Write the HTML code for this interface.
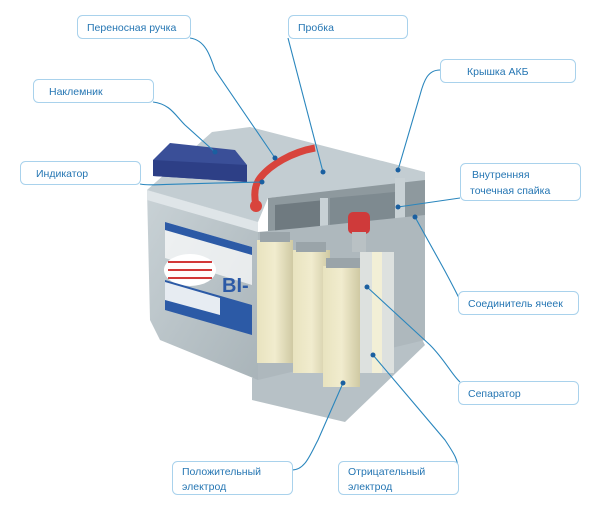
<!DOCTYPE html>
<html><head><meta charset="utf-8"><style>
body{margin:0;background:#fff;width:600px;height:510px;overflow:hidden;font-family:"Liberation Sans",sans-serif}
</style></head><body>
<svg width="600" height="510" viewBox="0 0 600 510" xmlns="http://www.w3.org/2000/svg">
<defs>
<linearGradient id="fr" x1="0" y1="0" x2="1" y2="1"><stop offset="0" stop-color="#c9d2d6"/><stop offset="1" stop-color="#a9b4b9"/></linearGradient>
<linearGradient id="pl" x1="0" y1="0" x2="1" y2="0"><stop offset="0" stop-color="#e8e3bf"/><stop offset="0.5" stop-color="#f1ecce"/><stop offset="1" stop-color="#cfc9a3"/></linearGradient>
</defs>
<polygon points="252,378 418,332 425,345 345,422 252,400" fill="#b7c1c6"/>
<polygon points="147,190 258,222 258,380 160,340 150,320" fill="url(#fr)"/>
<polygon points="147,190 258,222 258,232 147,200" fill="#dfe5e8"/>
<polygon points="147,190 212,132 250,127 425,172 425,182 268,198 258,222" fill="#c3cdd2"/>
<polygon points="268,198 425,180 425,240 268,250" fill="#8e999e"/>
<polygon points="275,205 325,200 325,250 275,252" fill="#6f7a80"/>
<polygon points="330,198 395,192 395,240 330,250" fill="#7e8a90"/>
<rect x="320" y="198" width="8" height="60" fill="#c8d1d5"/>
<rect x="395" y="178" width="10" height="70" fill="#c8d1d5"/>
<polygon points="258,232 300,228 425,215 425,340 258,380" fill="#aeb8bd"/>
<rect x="348" y="212" width="22" height="22" rx="5" fill="#cf3a3a"/>
<rect x="352" y="232" width="14" height="20" fill="#b9c1c4"/>
<rect x="257" y="240" width="36" height="123" fill="url(#pl)"/>
<rect x="293" y="250" width="37" height="123" fill="url(#pl)"/>
<rect x="323" y="266" width="37" height="121" fill="url(#pl)"/>
<rect x="360" y="252" width="34" height="121" fill="#dde1df"/>
<rect x="372" y="252" width="10" height="121" fill="#f2efd6"/>
<rect x="260" y="232" width="30" height="10" fill="#9aa4a9"/>
<rect x="296" y="242" width="30" height="10" fill="#9aa4a9"/>
<rect x="326" y="258" width="34" height="10" fill="#9aa4a9"/>
<polygon points="165,222 252,247 252,285 165,258" fill="#fff" opacity="0.7"/>
<polygon points="165,222 252,247 252,255 165,230" fill="#2c5aa6"/>
<ellipse cx="190" cy="270" rx="26" ry="16" fill="#fff"/>
<g stroke="#d23a3a" stroke-width="2"><line x1="168" y1="262" x2="212" y2="262"/><line x1="168" y1="270" x2="212" y2="270"/><line x1="168" y1="278" x2="212" y2="278"/></g>
<text x="222" y="292" font-size="20" fill="#2c5aa6" font-weight="bold">BI-</text>
<polygon points="165,280 252,305 252,335 165,310" fill="#2c5aa6"/>
<polygon points="165,282 220,298 220,315 165,300" fill="#e7ecf2"/>
<polygon points="153,160 170,143 235,150 247,165 247,182 153,176" fill="#3a4f98"/>
<polygon points="153,160 247,165 247,182 153,176" fill="#2d3f86"/>
<path d="M315,148 C292,152 270,165 260,178 C254,186 254,196 256,205" stroke="#d8443c" stroke-width="7" fill="none"/>
<circle cx="256" cy="206" r="6" fill="#d8443c"/>
<g stroke="#2a86bd" stroke-width="1.1" fill="none">
<path d="M190,38 C205,40 210,55 215,70 L275,158"/>
<path d="M288,38 L323,172"/>
<path d="M440,70 C428,70 424,80 420,95 L398,170"/>
<path d="M153,102 C170,104 175,115 185,125 L215,152"/>
<path d="M140,184 C150,186 160,184 262,182"/>
<path d="M460,198 L398,207"/>
<path d="M460,300 C455,290 450,280 440,262 L415,217"/>
<path d="M460,382 C452,375 445,360 430,345 L367,287"/>
<path d="M292,470 C305,470 310,455 318,440 L343,383"/>
<path d="M458,470 C458,460 455,455 445,440 L373,355"/>
</g>
<g fill="#1a5fa0">
<circle cx="275" cy="158" r="2.5"/><circle cx="323" cy="172" r="2.5"/><circle cx="398" cy="170" r="2.5"/><circle cx="215" cy="152" r="2.5"/><circle cx="262" cy="182" r="2.5"/><circle cx="398" cy="207" r="2.5"/><circle cx="415" cy="217" r="2.5"/><circle cx="367" cy="287" r="2.5"/><circle cx="343" cy="383" r="2.5"/><circle cx="373" cy="355" r="2.5"/>
</g>
<g fill="#fff" stroke="#a9d2ec" stroke-width="1">
<rect x="77.5" y="15.5" width="113" height="23" rx="5"/>
<rect x="288.5" y="15.5" width="119" height="23" rx="5"/>
<rect x="440.5" y="59.5" width="135" height="23" rx="5"/>
<rect x="33.5" y="79.5" width="120" height="23" rx="5"/>
<rect x="20.5" y="161.5" width="120" height="23" rx="5"/>
<rect x="460.5" y="163.5" width="120" height="37" rx="5"/>
<rect x="458.5" y="291.5" width="120" height="23" rx="5"/>
<rect x="458.5" y="381.5" width="120" height="23" rx="5"/>
<rect x="172.5" y="461.5" width="120" height="33" rx="5"/>
<rect x="338.5" y="461.5" width="120" height="33" rx="5"/>
</g>
<g fill="#2576b3" font-size="10.5" font-family="Liberation Sans, sans-serif">
<text x="87" y="31">Переносная ручка</text>
<text x="298" y="31">Пробка</text>
<text x="467" y="75">Крышка АКБ</text>
<text x="49" y="95">Наклемник</text>
<text x="36" y="177">Индикатор</text>
<text x="472" y="178">Внутренняя</text>
<text x="470" y="194">точечная спайка</text>
<text x="468" y="307">Соединитель ячеек</text>
<text x="468" y="397">Сепаратор</text>
<text x="182" y="475">Положительный</text>
<text x="182" y="490">электрод</text>
<text x="348" y="475">Отрицательный</text>
<text x="348" y="490">электрод</text>
</g>
</svg>
</body></html>
